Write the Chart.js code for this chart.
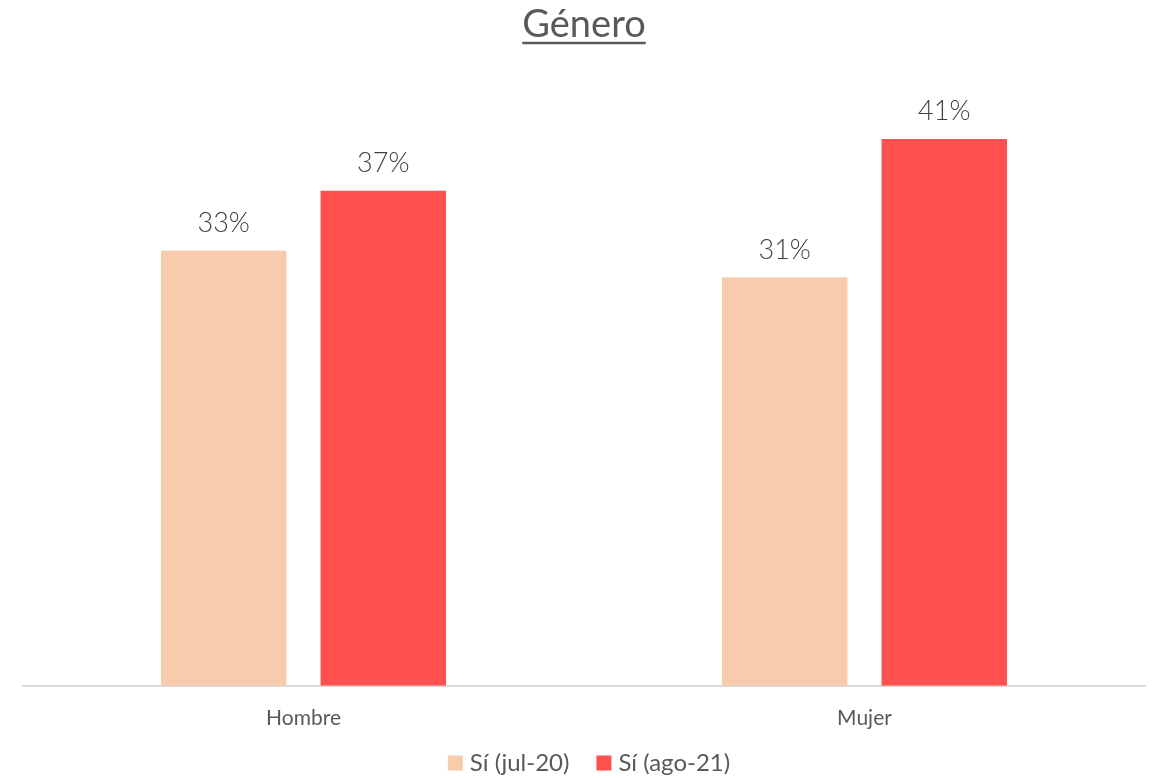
<!DOCTYPE html>
<html>
<head>
<meta charset="utf-8">
<script src="https://cdn.jsdelivr.net/npm/chart.js@4/dist/chart.umd.min.js"></script>
<style>
  html, body { margin: 0; padding: 0; background: #fff; }
  #wrap { width: 1155px; height: 778px; }
</style>
</head>
<body>
<div id="wrap"><canvas id="genderChart"></canvas></div>
<script>
const categories = ['Hombre', 'Mujer'];
const seriesLabels = ['Sí (jul-20)', 'Sí (ago-21)'];
const julValues = [0.327, 0.307];
const agoValues = [0.372, 0.411];
const seriesColors = ['#F8CBAD', '#FF5050'];

const textGray = '#595959';

// draws the percentage on top of each bar
const barLabels = {
  id: 'barLabels',
  afterDatasetsDraw(chart) {
    const ctx = chart.ctx;
    ctx.save();
    ctx.font = '300 27px Lato';
    ctx.fillStyle = '#404040';
    ctx.textAlign = 'center';
    ctx.textBaseline = 'bottom';
    chart.data.datasets.forEach((ds, i) => {
      const meta = chart.getDatasetMeta(i);
      meta.data.forEach((bar, j) => {
        ctx.fillText(Math.round(ds.data[j] * 100) + '%', bar.x, bar.y - 14);
      });
    });
    ctx.restore();
  }
};

// Chart.js has no underline for the title, so add one
const titleUnderline = {
  id: 'titleUnderline',
  afterDraw(chart) {
    const tb = chart.titleBlock;
    if (!tb) return;
    const ctx = chart.ctx;
    const opts = chart.options.plugins.title;
    ctx.save();
    ctx.font = `${opts.font.weight} ${opts.font.size}px ${opts.font.family}`;
    const w = ctx.measureText(opts.text).width;
    const cx = (tb.left + tb.right) / 2;
    ctx.strokeStyle = textGray;
    ctx.lineWidth = 2.5;
    ctx.beginPath();
    ctx.moveTo(cx - w / 2, 43);
    ctx.lineTo(cx + w / 2, 43);
    ctx.stroke();
    ctx.restore();
  }
};

// the built-in legend ties item gap to its vertical padding, so draw it by hand
const bottomLegend = {
  id: 'bottomLegend',
  afterDraw(chart) {
    const ctx = chart.ctx;
    const box = 15, textGap = 7, itemGap = 27, cy = 763;
    ctx.save();
    ctx.font = '24px Lato';
    ctx.textBaseline = 'middle';
    const items = chart.data.datasets.map(ds => ({ text: ds.label, color: ds.backgroundColor, w: ctx.measureText(ds.label).width }));
    const total = items.reduce((s, it) => s + box + textGap + it.w, 0) + itemGap * (items.length - 1);
    let x = 589 - total / 2;
    items.forEach(it => {
      ctx.fillStyle = it.color;
      ctx.fillRect(x, cy - box / 2, box, box);
      x += box + textGap;
      ctx.fillStyle = textGray;
      ctx.fillText(it.text, x, cy);
      x += it.w + itemGap;
    });
    ctx.restore();
  }
};

new Chart(document.getElementById('genderChart'), {
  type: 'bar',
  data: {
    labels: categories,
    datasets: [
      { label: seriesLabels[0], data: julValues, backgroundColor: seriesColors[0] },
      { label: seriesLabels[1], data: agoValues, backgroundColor: seriesColors[1] }
    ]
  },
  options: {
    responsive: true,
    maintainAspectRatio: false,
    animation: false,
    categoryPercentage: 0.569,
    barPercentage: 0.786,
    layout: { padding: { left: 23, right: 10, top: 0, bottom: 27 } },
    plugins: {
      title: {
        display: true,
        text: 'Género',
        color: textGray,
        font: { family: 'Lato', size: 38, weight: 'normal' },
        padding: { top: 2, bottom: 39.5 }
      },
      legend: { display: false },
      tooltip: { enabled: false }
    },
    scales: {
      x: {
        grid: { display: false, drawTicks: false },
        border: { color: '#d9d9d9', width: 2 },
        ticks: { color: textGray, font: { family: 'Lato', size: 21 }, padding: 20 }
      },
      y: {
        display: false,
        min: 0,
        max: 0.45
      }
    }
  },
  plugins: [barLabels, titleUnderline, bottomLegend]
});
</script>
</body>
</html>
